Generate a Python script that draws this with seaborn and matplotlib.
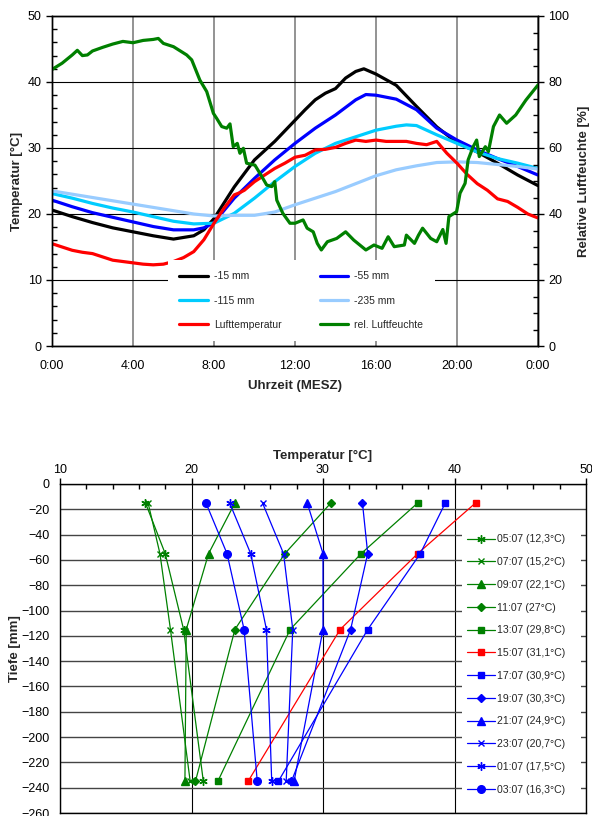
import numpy as np
import pandas as pd
import matplotlib
matplotlib.use("Agg")
import matplotlib.pyplot as plt
from matplotlib.ticker import MultipleLocator
import seaborn as sns

sns.set_style("white")
plt.rcParams["font.family"] = ["Liberation Sans", "DejaVu Sans"]

# ---------------- top chart data ----------------
hour_ticks = [0, 4, 8, 12, 16, 20, 24]
hour_labels = ["0:00", "4:00", "8:00", "12:00", "16:00", "20:00", "0:00"]

t_15 = [0, 1, 2, 3, 4, 5, 6, 7, 7.5, 8, 9, 10, 11, 12, 12.5, 13, 13.5, 14, 14.5, 15, 15.4, 16, 17, 18, 19, 20, 21, 22, 23, 24]
v_15 = [20.6, 19.6, 18.7, 17.9, 17.3, 16.7, 16.2, 16.7, 17.6, 19.3, 24.1, 28.2, 31.0, 34.2, 35.8, 37.3, 38.3, 39.0, 40.6, 41.6, 42.0, 41.2, 39.5, 36.3, 33.2, 30.8, 29.4, 27.7, 25.9, 24.3]

t_55 = [0, 1, 2, 3, 4, 5, 6, 7, 7.5, 8, 9, 10, 11, 12, 13, 14, 15, 15.5, 16, 17, 18, 19, 20, 21, 22, 23, 24]
v_55 = [22.1, 21.1, 20.2, 19.5, 18.8, 18.1, 17.6, 17.6, 17.9, 18.7, 22.4, 25.4, 28.2, 30.7, 33.0, 35.0, 37.3, 38.1, 38.0, 37.4, 35.8, 33.0, 31.2, 29.7, 28.4, 27.2, 25.9]

t_115 = [0, 1, 2, 3, 4, 5, 6, 7, 8, 9, 10, 11, 12, 13, 14, 15, 16, 17, 17.5, 18, 19, 20, 21, 22, 23, 24]
v_115 = [23.1, 22.4, 21.6, 20.9, 20.3, 19.6, 18.9, 18.5, 18.6, 20.1, 22.4, 24.9, 27.2, 29.2, 30.7, 31.7, 32.7, 33.3, 33.5, 33.4, 32.0, 30.7, 29.4, 28.4, 27.7, 26.9]

t_235 = [0, 2, 4, 6, 7, 8, 9, 10, 11, 12, 13, 14, 15, 16, 17, 18, 19, 20, 21, 22, 23, 24]
v_235 = [23.5, 22.5, 21.5, 20.5, 20.0, 19.7, 19.8, 19.8, 20.3, 21.4, 22.4, 23.4, 24.6, 25.8, 26.7, 27.3, 27.8, 27.9, 27.8, 27.5, 27.2, 26.8]

t_air = [0, 0.5, 1, 1.5, 2, 2.5, 3, 3.5, 4, 4.5, 5, 5.5, 6, 6.5, 7, 7.5, 8, 8.5, 9, 9.25, 9.5, 10, 10.5, 11, 11.5, 12, 12.5, 13, 13.5, 14, 14.5, 15, 15.5, 16, 16.5, 17, 17.5, 18, 18.5, 19, 19.5, 20, 20.5, 21, 21.5, 22, 22.5, 23, 23.5, 24]
v_air = [15.5, 15.0, 14.5, 14.2, 14.0, 13.5, 13.0, 12.8, 12.6, 12.4, 12.3, 12.4, 12.8, 13.4, 14.3, 16.1, 18.6, 20.9, 22.9, 23.2, 23.6, 24.9, 25.9, 26.9, 27.7, 28.6, 28.9, 29.7, 29.8, 30.1, 30.7, 31.2, 31.0, 31.2, 31.0, 31.0, 31.0, 30.7, 30.5, 31.0, 29.2, 27.7, 26.0, 24.6, 23.6, 22.3, 21.9, 21.0, 20.0, 19.4]

t_rh = [0, 0.5, 1, 1.25, 1.5, 1.75, 2, 2.5, 3, 3.5, 4, 4.5, 5, 5.25, 5.5, 6, 6.65, 6.9, 7.3, 7.64, 7.97, 8.13, 8.38, 8.63, 8.79, 8.95, 9.15, 9.28, 9.45, 9.61, 10.02, 10.27, 10.6, 10.85, 11.0, 11.1, 11.4, 11.75, 12.0, 12.4, 12.6, 12.9, 13.1, 13.3, 13.6, 14.06, 14.5, 14.9, 15.5, 15.9, 16.3, 16.6, 16.9, 17.4, 17.5, 17.9, 18.1, 18.3, 18.7, 19.0, 19.3, 19.46, 19.6, 19.98, 20.15, 20.4, 20.55, 20.8, 20.97, 21.1, 21.4, 21.55, 21.8, 22.1, 22.45, 22.9, 23.4, 24.0]
v_rh = [83.8, 85.7, 88.2, 89.6, 88.0, 88.2, 89.4, 90.5, 91.5, 92.3, 91.9, 92.6, 92.9, 93.2, 91.7, 90.7, 88.2, 86.7, 80.6, 77.1, 70.5, 69.0, 66.5, 66.0, 67.3, 60.4, 61.4, 58.4, 59.9, 55.4, 54.8, 52.3, 48.8, 48.3, 49.8, 44.2, 40.2, 37.2, 37.2, 38.2, 35.7, 34.6, 31.1, 29.1, 31.6, 32.6, 34.6, 32.1, 29.1, 30.6, 29.6, 33.1, 30.1, 30.6, 33.6, 31.1, 33.6, 35.7, 32.6, 31.6, 35.3, 31.1, 39.2, 40.7, 46.3, 49.3, 56.4, 60.4, 62.4, 57.4, 60.4, 58.9, 66.5, 70.0, 67.5, 70.0, 74.5, 79.1]

# ---------------- bottom chart data ----------------
depths = [-15, -55, -115, -235]
profile_labels = ["05:07 (12,3°C)", "07:07 (15,2°C)", "09:07 (22,1°C)", "11:07 (27°C)",
                  "13:07 (29,8°C)", "15:07 (31,1°C)", "17:07 (30,9°C)", "19:07 (30,3°C)",
                  "21:07 (24,9°C)", "23:07 (20,7°C)", "01:07 (17,5°C)", "03:07 (16,3°C)"]
profile_temps = [
    [16.5, 18.0, 19.4, 20.9],
    [16.7, 17.6, 18.4, 19.9],
    [23.3, 21.3, 19.6, 19.5],
    [30.6, 27.1, 23.3, 20.3],
    [37.2, 32.9, 27.5, 22.0],
    [41.6, 37.2, 31.3, 24.3],
    [39.3, 37.4, 33.4, 26.6],
    [33.0, 33.4, 32.1, 27.6],
    [28.8, 30.0, 30.0, 27.8],
    [25.4, 27.0, 27.7, 27.2],
    [22.9, 24.5, 25.7, 26.1],
    [21.1, 22.7, 24.0, 25.0],
]
G, R, B = "#008000", "#FF0000", "#0000FF"
profile_colors = [G, G, G, G, G, R, B, B, B, B, B, B]
AST = (6, 2, 0)
profile_markers = [AST, "x", "^", "D", "s", "s", "s", "D", "^", "x", AST, "o"]
profile_msize = [6, 5, 5.5, 4, 5, 5, 5, 4, 5.5, 5, 6, 5.5]

W, H = 592, 816
fig = plt.figure(figsize=(W / 100, H / 100), dpi=100)
fig.patch.set_facecolor("white")

def rect(l, t, r, b):
    return [l / W, 1 - b / H, (r - l) / W, (b - t) / H]

# ================= TOP CHART =================
ax = fig.add_axes(rect(52, 16, 538, 346))
ax2 = ax.twinx()
LW = 2.3
series = [
    (t_15, v_15, "black", "-15 mm"),
    (t_55, v_55, B, "-55 mm"),
    (t_115, v_115, "#00CCFF", "-115 mm"),
    (t_235, v_235, "#99CCFF", "-235 mm"),
    (t_air, v_air, R, "Lufttemperatur"),
]
for tt, vv, c, lab in series:
    sns.lineplot(x=tt, y=vv, ax=ax, color=c, lw=LW, label=lab, estimator=None, sort=False)
sns.lineplot(x=t_rh, y=v_rh, ax=ax2, color=G, lw=LW, label="rel. Luftfeuchte", estimator=None, sort=False)

for a in (ax, ax2):
    if a.get_legend() is not None:
        a.get_legend().remove()

ax.set_xlim(0, 24)
ax.set_ylim(0, 50)
ax2.set_ylim(0, 100)
ax.set_xticks(hour_ticks)
ax.set_xticklabels(hour_labels)
ax.xaxis.set_minor_locator(MultipleLocator(1))
ax.yaxis.set_major_locator(MultipleLocator(10))
ax.yaxis.set_minor_locator(MultipleLocator(2))
ax2.yaxis.set_major_locator(MultipleLocator(20))
ax2.yaxis.set_minor_locator(MultipleLocator(5))

ax.set_axisbelow(True)
ax.grid(axis="y", which="major", color="black", lw=0.8)
ax.grid(axis="x", which="major", color="#808080", lw=1.2)
ax2.grid(False)

for a in (ax, ax2):
    for s in a.spines.values():
        s.set_color("black")
        s.set_linewidth(1.0)
ax.tick_params(axis="both", which="major", direction="out", length=4, width=1, labelsize=9, colors="black")
ax.tick_params(axis="both", which="minor", direction="in", length=3.5, width=1, colors="black")
ax.tick_params(axis="x", which="major", pad=6)
ax2.tick_params(axis="y", which="major", direction="out", length=4, width=1, labelsize=9, colors="black")
ax2.tick_params(axis="y", which="minor", direction="in", length=3.5, width=1, colors="black")

ax.set_xlabel("Uhrzeit (MESZ)", fontsize=9.5, fontweight="bold", labelpad=6)
ax.set_ylabel("Temperatur [°C]", fontsize=9.5, fontweight="bold", labelpad=3)
ax2.set_ylabel("Relative Luftfeuchte [%]", fontsize=9.5, fontweight="bold", labelpad=6)

h1, l1 = ax.get_legend_handles_labels()
h2, l2 = ax2.get_legend_handles_labels()
hd = dict(zip(l1 + l2, h1 + h2))
order = ["-15 mm", "-115 mm", "Lufttemperatur", "-55 mm", "-235 mm", "rel. Luftfeuchte"]
ax2.legend([hd[k] for k in order], order, ncol=2, loc="upper left",
           bbox_to_anchor=((168 - 52) / 486, (346 - 260) / 330),
           fontsize=7.5, frameon=True, fancybox=False, framealpha=1,
           edgecolor="none", facecolor="white", handlelength=2.7, handletextpad=0.6,
           labelspacing=1.35, borderaxespad=0, borderpad=1.1, columnspacing=3.7)

# ================= BOTTOM CHART =================
bx = fig.add_axes(rect(60, 484, 586, 813))
for temps, lab, c, m, ms in zip(profile_temps, profile_labels, profile_colors, profile_markers, profile_msize):
    sns.lineplot(x=temps, y=depths, ax=bx, orient="y", sort=False, estimator=None,
                 color=c, lw=0.9, marker=m, markersize=ms, markeredgewidth=1.0,
                 markeredgecolor=c, markerfacecolor=c, label=lab)
if bx.get_legend() is not None:
    bx.get_legend().remove()

bx.set_xlim(10, 50)
bx.set_ylim(-260, 0)
bx.xaxis.tick_top()
bx.xaxis.set_label_position("top")
bx.xaxis.set_major_locator(MultipleLocator(10))
bx.xaxis.set_minor_locator(MultipleLocator(2))
bx.yaxis.set_major_locator(MultipleLocator(20))
bx.set_axisbelow(True)
bx.grid(axis="y", which="major", color="#444444", lw=1.0)
bx.grid(axis="x", which="major", color="black", lw=0.8)
for s in bx.spines.values():
    s.set_color("black")
    s.set_linewidth(1.0)
bx.tick_params(axis="both", which="major", direction="out", length=4, width=1, labelsize=9, colors="black")
bx.tick_params(axis="x", which="minor", direction="in", length=3.5, width=1, colors="black")
bx.tick_params(axis="x", which="major", pad=2)
bx.set_xlabel("Temperatur [°C]", fontsize=9.5, fontweight="bold", labelpad=3)
bx.set_ylabel("Tiefe [mm]", fontsize=9.5, fontweight="bold", labelpad=0)

bh, bl = bx.get_legend_handles_labels()
bx.legend(bh, bl, loc="lower left",
          bbox_to_anchor=((462 - 60) / 526, (813 - 800) / 329, (581 - 462) / 526, (800 - 524) / 329),
          mode="expand", fontsize=7.6, frameon=True, fancybox=False, framealpha=1,
          edgecolor="none", facecolor="white", handlelength=2.6, handletextpad=0.25,
          labelspacing=1.21, borderaxespad=0, borderpad=0.5)

fig.savefig("out.png", dpi=100, facecolor="white")
